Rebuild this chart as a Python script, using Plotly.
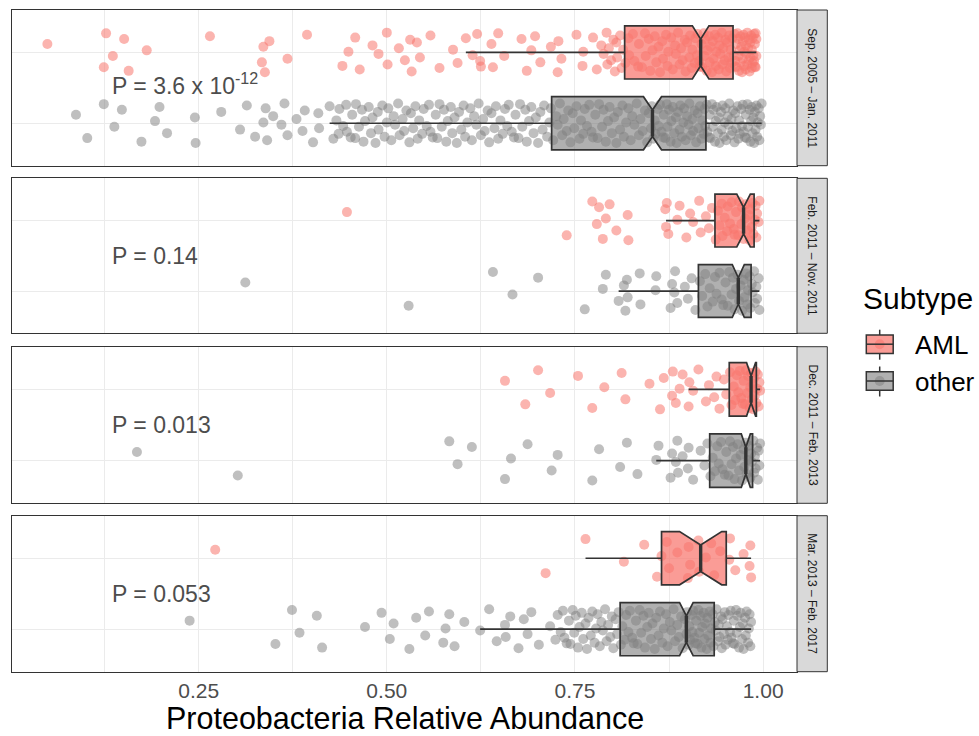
import plotly.graph_objects as go

# ---------------- data ----------------
PANELS = ["Sep. 2005 – Jan. 2011", "Feb. 2011 – Nov. 2011",
          "Dec. 2011 – Feb. 2013", "Mar. 2013 – Feb. 2017"]
SUBTYPES = ["AML", "other"]
P_LABELS = ["P = 3.6 x 10<sup>-12</sup>", "P = 0.14", "P = 0.013", "P = 0.053"]
X_TICKS = [0.25, 0.50, 0.75, 1.00]
X_TICK_TEXT = ["0.25", "0.50", "0.75", "1.00"]
X_MINOR = [0.125, 0.375, 0.625, 0.875]

# relative abundance per sample, by period and subtype
p1_aml = [0.049, 0.124, 0.127, 0.136, 0.151, 0.157, 0.181, 0.265, 0.334, 0.336, 0.338, 0.344, 0.368, 0.394,
          0.441, 0.449, 0.458, 0.464, 0.481, 0.489, 0.500, 0.501, 0.516, 0.524, 0.531, 0.533, 0.540, 0.544,
          0.558, 0.570, 0.588, 0.594, 0.605, 0.614, 0.620, 0.624, 0.625, 0.639, 0.641, 0.648, 0.656, 0.679,
          0.686, 0.692, 0.697, 0.704, 0.718, 0.727, 0.728, 0.732, 0.752, 0.760, 0.761, 0.774, 0.779, 0.785,
          0.788, 0.792, 0.793, 0.795, 0.798, 0.801, 0.803, 0.805, 0.806, 0.810, 0.812, 0.814,
          0.817, 0.821, 0.822, 0.827, 0.829, 0.834, 0.835, 0.839, 0.843, 0.844, 0.848, 0.850, 0.853, 0.856,
          0.858, 0.861, 0.863, 0.866, 0.867, 0.871, 0.873, 0.874, 0.878, 0.880, 0.883, 0.884, 0.887, 0.889,
          0.891, 0.893, 0.896, 0.897, 0.899, 0.902, 0.903, 0.905, 0.906, 0.909, 0.910, 0.912, 0.913, 0.915,
          0.916, 0.918, 0.919, 0.921, 0.922, 0.923, 0.925, 0.926, 0.928, 0.929, 0.930, 0.932, 0.933, 0.934,
          0.936, 0.937, 0.938, 0.940, 0.941, 0.942, 0.943, 0.945, 0.946, 0.947, 0.949, 0.950, 0.951, 0.952,
          0.954, 0.955, 0.956, 0.957, 0.958, 0.959, 0.961, 0.962, 0.963, 0.963, 0.964, 0.965, 0.966, 0.967,
          0.967, 0.968, 0.969, 0.970, 0.970, 0.971, 0.972, 0.973, 0.973, 0.974, 0.975, 0.975, 0.976, 0.977,
          0.977, 0.978, 0.979, 0.979, 0.980, 0.981, 0.981, 0.982, 0.983, 0.983, 0.984, 0.985, 0.985, 0.986,
          0.986, 0.987, 0.988, 0.988, 0.989, 0.989, 0.990, 0.990, 0.991, 0.991]
p1_other = [0.087, 0.102, 0.124, 0.138, 0.148, 0.174, 0.192, 0.198, 0.208, 0.245, 0.246, 0.280, 0.305, 0.314,
            0.325, 0.336, 0.339, 0.341, 0.349, 0.360, 0.364, 0.368, 0.380, 0.388, 0.391, 0.402, 0.409, 0.410,
            0.424, 0.429, 0.433, 0.436, 0.437, 0.442, 0.446, 0.447, 0.452, 0.454, 0.458, 0.459, 0.463, 0.467,
            0.469, 0.471, 0.476, 0.479, 0.481, 0.485, 0.488, 0.489, 0.494, 0.497, 0.500, 0.502, 0.506, 0.509,
            0.511, 0.515, 0.517, 0.521, 0.523, 0.526, 0.530, 0.532, 0.535, 0.538, 0.541, 0.543, 0.547, 0.549,
            0.553, 0.556, 0.558, 0.561, 0.565, 0.567, 0.570, 0.573, 0.576, 0.579, 0.581, 0.585, 0.587, 0.590,
            0.593, 0.596, 0.599, 0.602, 0.604, 0.607, 0.611, 0.613, 0.616, 0.619, 0.622, 0.625, 0.628, 0.630,
            0.634, 0.636, 0.639, 0.643, 0.645, 0.648, 0.651, 0.654, 0.657, 0.660, 0.662, 0.666, 0.669, 0.671,
            0.675, 0.677, 0.680, 0.684, 0.686, 0.689, 0.692, 0.695, 0.698, 0.701, 0.704, 0.707, 0.709, 0.713,
            0.716, 0.718, 0.721, 0.725, 0.727, 0.730, 0.733, 0.735, 0.739, 0.741, 0.744, 0.747, 0.749, 0.752,
            0.756, 0.758, 0.761, 0.763, 0.766, 0.769, 0.772, 0.774, 0.777, 0.780, 0.782, 0.786, 0.788, 0.791,
            0.794, 0.796, 0.799, 0.802, 0.805, 0.807, 0.810, 0.813, 0.815, 0.818, 0.821, 0.824, 0.826, 0.829,
            0.832, 0.835, 0.837, 0.840, 0.843, 0.846, 0.848, 0.851, 0.852, 0.854, 0.856, 0.857, 0.860, 0.861,
            0.863, 0.865, 0.867, 0.868, 0.870, 0.872, 0.873, 0.875, 0.877, 0.878, 0.880, 0.882, 0.884, 0.885,
            0.887, 0.889, 0.890, 0.892, 0.894, 0.895, 0.897, 0.899, 0.901, 0.902, 0.904, 0.906, 0.907, 0.909,
            0.911, 0.913, 0.914, 0.916, 0.918, 0.919, 0.921, 0.922, 0.923, 0.925, 0.926, 0.928, 0.929, 0.930,
            0.932, 0.933, 0.934, 0.936, 0.937, 0.938, 0.940, 0.941, 0.942, 0.944, 0.945, 0.946, 0.948, 0.949,
            0.950, 0.951, 0.953, 0.954, 0.955, 0.957, 0.958, 0.959, 0.960, 0.962, 0.963, 0.964, 0.966, 0.967,
            0.968, 0.969, 0.971, 0.972, 0.973, 0.974, 0.976, 0.977, 0.978, 0.979, 0.980, 0.982, 0.983, 0.984,
            0.985, 0.986, 0.987, 0.988, 0.989, 0.990, 0.991, 0.992, 0.993, 0.994, 0.995, 0.996, 0.997, 0.998]
p2_aml = [0.447, 0.739, 0.773, 0.779, 0.782, 0.787, 0.791, 0.796, 0.805, 0.820, 0.821, 0.870, 0.871, 0.872,
          0.874, 0.886, 0.889, 0.898, 0.903, 0.907, 0.915, 0.917, 0.924, 0.928, 0.932, 0.937, 0.940, 0.942,
          0.945, 0.946, 0.949, 0.952, 0.953, 0.956, 0.958, 0.961, 0.962, 0.964, 0.967, 0.968, 0.971, 0.972,
          0.974, 0.976, 0.977, 0.979, 0.981, 0.982, 0.983, 0.985, 0.986, 0.987, 0.989, 0.990, 0.991, 0.992,
          0.994, 0.995]
p2_other = [0.312, 0.529, 0.641, 0.667, 0.701, 0.763, 0.787, 0.791, 0.808, 0.815, 0.817, 0.819, 0.820, 0.836,
            0.837, 0.857, 0.858, 0.877, 0.879, 0.882, 0.883, 0.886, 0.896, 0.900, 0.905, 0.910, 0.916, 0.919,
            0.923, 0.926, 0.929, 0.933, 0.936, 0.938, 0.942, 0.945, 0.947, 0.950, 0.953, 0.955, 0.958, 0.960,
            0.962, 0.964, 0.966, 0.968, 0.970, 0.972, 0.974, 0.975, 0.977, 0.979, 0.980, 0.982, 0.983, 0.985,
            0.986, 0.988, 0.989, 0.991, 0.992, 0.994, 0.995]
p3_aml = [0.657, 0.684, 0.701, 0.717, 0.754, 0.773, 0.789, 0.812, 0.817, 0.849, 0.863, 0.868, 0.879, 0.880,
          0.884, 0.889, 0.893, 0.901, 0.902, 0.907, 0.914, 0.924, 0.928, 0.935, 0.938, 0.942, 0.948, 0.951,
          0.956, 0.958, 0.961, 0.963, 0.965, 0.967, 0.969, 0.971, 0.973, 0.974, 0.976, 0.977, 0.979, 0.980,
          0.982, 0.983, 0.984, 0.985, 0.986, 0.987, 0.988, 0.989, 0.990, 0.991, 0.992, 0.993, 0.994, 0.995,
          0.996]
p3_other = [0.168, 0.302, 0.583, 0.594, 0.613, 0.657, 0.665, 0.687, 0.719, 0.727, 0.773, 0.782, 0.810, 0.819,
            0.833, 0.858, 0.861, 0.877, 0.879, 0.884, 0.886, 0.887, 0.893, 0.900, 0.901, 0.907, 0.917, 0.922,
            0.926, 0.930, 0.933, 0.936, 0.939, 0.941, 0.944, 0.946, 0.949, 0.951, 0.954, 0.956, 0.958, 0.960,
            0.962, 0.964, 0.966, 0.968, 0.970, 0.972, 0.974, 0.975, 0.977, 0.978, 0.980, 0.981, 0.983, 0.984,
            0.985, 0.987, 0.988, 0.989, 0.990, 0.992, 0.993, 0.994, 0.995, 0.996]
p4_aml = [0.272, 0.711, 0.764, 0.815, 0.842, 0.859, 0.865, 0.872, 0.875, 0.886, 0.900, 0.901, 0.903, 0.914,
          0.915, 0.924, 0.931, 0.935, 0.943, 0.955, 0.956, 0.963, 0.974, 0.982, 0.983, 0.984]
p4_other = [0.238, 0.352, 0.374, 0.384, 0.407, 0.414, 0.471, 0.493, 0.504, 0.509, 0.530, 0.539, 0.551, 0.556,
            0.575, 0.578, 0.583, 0.590, 0.603, 0.624, 0.636, 0.646, 0.657, 0.658, 0.664, 0.675, 0.682, 0.687,
            0.692, 0.702, 0.717, 0.724, 0.727, 0.731, 0.734, 0.736, 0.739, 0.742, 0.744, 0.747, 0.749, 0.751,
            0.754, 0.756, 0.759, 0.761, 0.764, 0.766, 0.768, 0.771, 0.773, 0.776, 0.778, 0.780, 0.783, 0.785,
            0.787, 0.790, 0.792, 0.794, 0.797, 0.799, 0.801, 0.804, 0.806, 0.808, 0.811, 0.813, 0.816, 0.818,
            0.821, 0.823, 0.826, 0.828, 0.831, 0.833, 0.836, 0.838, 0.841, 0.843, 0.846, 0.848, 0.851, 0.853,
            0.856, 0.858, 0.861, 0.863, 0.866, 0.868, 0.871, 0.873, 0.876, 0.878, 0.881, 0.883, 0.886, 0.888,
            0.891, 0.893, 0.896, 0.898, 0.899, 0.901, 0.902, 0.903, 0.905, 0.906, 0.907, 0.909, 0.910, 0.911,
            0.913, 0.914, 0.915, 0.917, 0.918, 0.919, 0.921, 0.922, 0.923, 0.925, 0.926, 0.927, 0.929, 0.930,
            0.931, 0.933, 0.934, 0.936, 0.937, 0.938, 0.940, 0.941, 0.942, 0.944, 0.945, 0.946, 0.948, 0.949,
            0.950, 0.952, 0.953, 0.954, 0.956, 0.957, 0.958, 0.960, 0.961, 0.962, 0.964, 0.965, 0.966, 0.968,
            0.969, 0.970, 0.972, 0.973, 0.974, 0.976, 0.977, 0.978, 0.980, 0.981, 0.982, 0.983, 0.984]

AML_VALUES = [p1_aml, p2_aml, p3_aml, p4_aml]
OTHER_VALUES = [p1_other, p2_other, p3_other, p4_other]

# notched box statistics per period
aml_q1 = [0.816, 0.936, 0.955, 0.865]
aml_median = [0.917, 0.974, 0.984, 0.917]
aml_q3 = [0.960, 0.988, 0.991, 0.951]
aml_low = [0.605, 0.871, 0.901, 0.764]
aml_high = [0.991, 0.995, 0.996, 0.984]
aml_notch = [0.011, 0.009, 0.006, 0.028]
other_q1 = [0.719, 0.914, 0.929, 0.810]
other_median = [0.853, 0.967, 0.977, 0.898]
other_q3 = [0.924, 0.984, 0.986, 0.935]
other_low = [0.424, 0.808, 0.858, 0.624]
other_high = [0.998, 0.995, 0.996, 0.984]
other_notch = [0.012, 0.008, 0.006, 0.009]

# ---------------- style ----------------
FONT = "Liberation Sans, Arial, Helvetica, sans-serif"
AML_POINT = "rgba(248,118,109,0.55)"
OTHER_POINT = "rgba(127,127,127,0.5)"
AML_FILL = "rgba(248,118,109,0.72)"
OTHER_FILL = "rgba(127,127,127,0.62)"
EDGE = "#333333"
GRID = "#EBEBEB"
BOX_WIDTH = 0.75
NARROW = 0.5                     # box width kept at the median, as a fraction
NOTCH_WIDTH = (1 - NARROW) / 2   # plotly's notch inset on each side
# fixed vertical spread pattern for the jittered samples (category units)
JITTER = [0.12, -0.21, 0.27, -0.05, 0.19, -0.26, 0.03, 0.23, -0.14, 0.08, -0.28, 0.16, -0.09,
          0.25, -0.19, 0.01, 0.21, -0.24, 0.10, -0.02, 0.28, -0.17, 0.06, -0.11, 0.18, -0.27,
          0.14, -0.07, 0.24, -0.22, 0.04, -0.15, 0.20, -0.04, 0.26, -0.12, -0.20]
POS = {"AML": 2, "other": 1}

W, H = 979, 736
ML, MR, MT, MB = 12, 182, 10, 64
PW, PH = W - ML - MR, H - MT - MB


def fx(px):
    return (px - ML) / PW


def fy(py):
    return (H - MB - py) / PH


PANEL_PX = [(10, 165.7), (178.3, 333.3), (346.7, 503.3), (515.7, 671.7)]
X_RANGE = [0.002, 1.045]
Y_RANGE = [0.4, 2.6]

fig = go.Figure()
layout = dict(
    width=W, height=H, paper_bgcolor="white", plot_bgcolor="white",
    margin=dict(l=ML, r=MR, t=MT, b=MB), showlegend=False,
    font=dict(family=FONT), boxmode="overlay",
)
shapes, annotations = [], []

for i in range(4):
    n = i + 1
    xa = "x" if n == 1 else f"x{n}"
    ya = "y" if n == 1 else f"y{n}"
    yo = f"y{n + 4}"
    top, bot = PANEL_PX[i]
    dom = [max(0.0, fy(bot)), min(1.0, fy(top))]

    layout["xaxis" if n == 1 else f"xaxis{n}"] = dict(
        domain=[0, 1], anchor=ya, range=X_RANGE, tickmode="array", tickvals=X_TICKS,
        ticktext=X_TICK_TEXT, showticklabels=(n == 4), ticks="", showgrid=True,
        gridcolor=GRID, gridwidth=1.1, zeroline=False, showline=True, mirror=True,
        linecolor=EDGE, linewidth=1, tickfont=dict(size=21, color="#4D4D4D"),
        ticklabelstandoff=0,
        minor=dict(tickvals=X_MINOR, showgrid=True, gridcolor=GRID, gridwidth=0.55, ticks=""),
        **({} if n == 1 else {"matches": "x"}),
    )
    layout["yaxis" if n == 1 else f"yaxis{n}"] = dict(
        domain=dom, anchor=xa, range=Y_RANGE, tickmode="array", tickvals=[1, 2],
        showticklabels=False, ticks="", showgrid=True, gridcolor=GRID, gridwidth=1.1,
        zeroline=False, showline=True, mirror=True, linecolor=EDGE, linewidth=1,
    )
    layout[f"yaxis{n + 4}"] = dict(overlaying=ya, anchor=xa, range=Y_RANGE, visible=False)

    # jittered samples
    for name, vals, col in (("other", OTHER_VALUES[i], OTHER_POINT), ("AML", AML_VALUES[i], AML_POINT)):
        ys = [POS[name] + JITTER[k % len(JITTER)] for k in range(len(vals))]
        fig.add_trace(go.Scatter(
            x=vals, y=ys, xaxis=xa, yaxis=ya, mode="markers", hoverinfo="skip",
            marker=dict(size=10, color=col, line=dict(width=0)),
        ))

    # notched boxes drawn above the samples
    for name, q1, med, q3, lo, hi, nt, fill in (
        ("AML", aml_q1, aml_median, aml_q3, aml_low, aml_high, aml_notch, AML_FILL),
        ("other", other_q1, other_median, other_q3, other_low, other_high, other_notch, OTHER_FILL),
    ):
        fig.add_trace(go.Box(
            orientation="h", y=[POS[name]], q1=[q1[i]], median=[med[i]], q3=[q3[i]],
            lowerfence=[lo[i]], upperfence=[hi[i]], notchspan=[nt[i]], notched=True,
            notchwidth=NOTCH_WIDTH, width=BOX_WIDTH, whiskerwidth=0, boxpoints=False,
            fillcolor=fill, line=dict(color=EDGE, width=1.7), xaxis=xa, yaxis=yo,
            hoverinfo="skip",
        ))
        half = BOX_WIDTH / 2 * NARROW
        fig.add_trace(go.Scatter(
            x=[med[i], med[i]], y=[POS[name] - half, POS[name] + half], xaxis=xa, yaxis=yo,
            mode="lines", line=dict(color=EDGE, width=3.4), hoverinfo="skip",
        ))

    # P value label
    annotations.append(dict(
        xref=xa, yref=ya, x=0.1325, y=1.5, xanchor="left", yanchor="middle",
        text=P_LABELS[i], showarrow=False, font=dict(size=23, color="#4D4D4D"),
        yshift=4 if i == 0 else 0,
    ))

    # facet strip
    shapes.append(dict(type="rect", xref="paper", yref="paper", x0=1.0, x1=fx(827.3),
                       y0=dom[0], y1=dom[1], fillcolor="#D9D9D9",
                       line=dict(color=EDGE, width=1), layer="above"))
    annotations.append(dict(
        xref="paper", yref="paper", x=fx(812.5), y=(dom[0] + dom[1]) / 2, text=PANELS[i],
        textangle=90, showarrow=False, xanchor="center", yanchor="middle",
        font=dict(size=12, color="#1A1A1A"),
    ))

# axis title
annotations.append(dict(
    xref="paper", yref="paper", x=0.5, y=fy(718), xanchor="center", yanchor="middle",
    text="Proteobacteria Relative Abundance", showarrow=False,
    font=dict(size=30.5, color="black"),
))

# legend
annotations.append(dict(
    xref="paper", yref="paper", x=fx(861), y=fy(298), xanchor="left", yanchor="middle",
    text="Subtype", showarrow=False, font=dict(size=30, color="black"),
))
for name, cy, fill, pcol in (("AML", 344.2, AML_FILL, AML_POINT), ("other", 381, OTHER_FILL, OTHER_POINT)):
    cx = 879.7
    shapes.append(dict(type="line", xref="paper", yref="paper", x0=fx(cx), x1=fx(cx),
                       y0=fy(cy - 14.5), y1=fy(cy - 9.2), line=dict(color=EDGE, width=1.5)))
    shapes.append(dict(type="line", xref="paper", yref="paper", x0=fx(cx), x1=fx(cx),
                       y0=fy(cy + 9.2), y1=fy(cy + 15.5), line=dict(color=EDGE, width=1.5)))
    shapes.append(dict(type="circle", xref="paper", yref="paper", x0=fx(cx - 5), x1=fx(cx + 5),
                       y0=fy(cy + 5), y1=fy(cy - 5), fillcolor=pcol, line=dict(width=0)))
    shapes.append(dict(type="rect", xref="paper", yref="paper", x0=fx(866.3), x1=fx(893.2),
                       y0=fy(cy + 9.2), y1=fy(cy - 9.2), fillcolor=fill,
                       line=dict(color=EDGE, width=1.5)))
    shapes.append(dict(type="line", xref="paper", yref="paper", x0=fx(866.3), x1=fx(893.2),
                       y0=fy(cy), y1=fy(cy), line=dict(color=EDGE, width=1.5)))
    annotations.append(dict(
        xref="paper", yref="paper", x=fx(913), y=fy(cy + 1), xanchor="left", yanchor="middle",
        text=name, showarrow=False, font=dict(size=26, color="black"),
    ))

layout["shapes"] = shapes
layout["annotations"] = annotations
fig.update_layout(**layout)
fig.write_html("out.html")
